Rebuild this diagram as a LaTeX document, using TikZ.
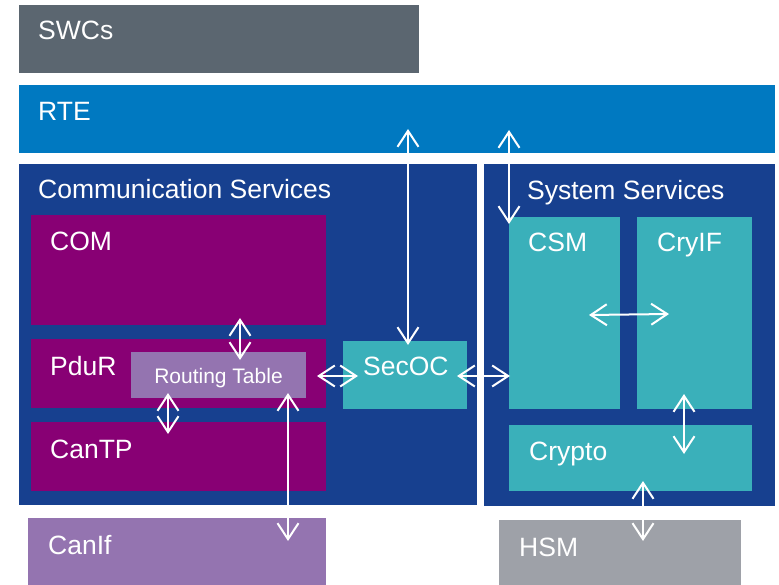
\documentclass[tikz,border=0pt]{standalone}
\usepackage{fontspec}
\setmainfont{Liberation Sans}
\usetikzlibrary{arrows.meta}
\definecolor{swcgray}{HTML}{5B6670}
\definecolor{rteblue}{HTML}{0079C1}
\definecolor{darkblue}{HTML}{17408F}
\definecolor{mpurple}{HTML}{880074}
\definecolor{lilac}{HTML}{9474B0}
\definecolor{teal}{HTML}{3AB0BA}
\definecolor{hsmgray}{HTML}{9EA1A8}
\tikzset{
  blk/.style={anchor=north west, inner sep=0pt, outer sep=0pt, draw=none},
  lbl/.style={anchor=base west, inner sep=0pt, text=white, font=\fontsize{26.5}{30}\selectfont},
  smalllbl/.style={anchor=base, inner sep=0pt, text=white, font=\fontsize{21}{25}\selectfont},
  dbl/.style={draw=white, line width=2pt, {Straight Barb[length=16pt,width=21pt]}-{Straight Barb[length=16pt,width=21pt]}}
}
\newcommand{\blkbox}[6]{\node[blk, fill=#6, minimum width=#4pt, minimum height=#5pt] (#1) at (#2,#3) {};}
\begin{document}
\begin{tikzpicture}[x=1pt,y=-1pt]
\useasboundingbox (0,0) rectangle (779,585);
% boxes
\blkbox{swc}{19}{5}{400}{68}{swcgray}
\blkbox{rte}{19}{85}{756}{68}{rteblue}
\blkbox{comm}{19}{164}{458}{341}{darkblue}
\blkbox{sys}{484}{164}{291}{342}{darkblue}
\blkbox{com}{31}{215}{295}{110}{mpurple}
\blkbox{pdur}{31}{339}{295}{69}{mpurple}
\blkbox{rt}{131}{352}{175}{46}{lilac}
\blkbox{cantp}{31}{422}{295}{69}{mpurple}
\blkbox{secoc}{343}{341}{124}{68}{teal}
\blkbox{csm}{509}{217}{111}{192}{teal}
\blkbox{cryif}{637}{217}{115}{192}{teal}
\blkbox{crypto}{509}{425}{243}{66}{teal}
\blkbox{canif}{28}{518}{298}{67}{lilac}
\blkbox{hsm}{499}{520}{242}{65}{hsmgray}
% labels
\node[lbl] (tswc) at (38,40) {SWCs};
\node[lbl] (trte) at (38,121) {RTE};
\node[lbl] (tcomm) at (38,199) {Communication Services};
\node[lbl] (tsys) at (527,200) {System Services};
\node[lbl] (tcom) at (50,251) {COM};
\node[lbl] (tpdur) at (50,375) {PduR};
\node[lbl] (tcantp) at (50,458) {CanTP};
\node[lbl] (tsecoc) at (363,375) {SecOC};
\node[lbl] (tcsm) at (528,252) {CSM};
\node[lbl] (tcryif) at (657,252) {CryIF};
\node[lbl] (tcrypto) at (529,460) {Crypto};
\node[lbl] (tcanif) at (48,554) {CanIf};
\node[lbl] (thsm) at (519,556) {HSM};
\node[smalllbl] (trt) at (218.5,383.5) {Routing Table};
% arrow end points
\coordinate (a1) at (408,129); \coordinate (b1) at (408,345);
\coordinate (a2) at (509,130); \coordinate (b2) at (509,224);
\coordinate (a3) at (240,318); \coordinate (b3) at (240,360);
\coordinate (a4) at (168,393); \coordinate (b4) at (168,434);
\coordinate (a5) at (317,376); \coordinate (b5) at (358,376);
\coordinate (a6) at (457,376); \coordinate (b6) at (510,376);
\coordinate (a7) at (589,315); \coordinate (b7) at (669,314);
\coordinate (a8) at (684,394); \coordinate (b8) at (684,454);
\coordinate (a9) at (643,481); \coordinate (b9) at (643,541);
\coordinate (a10) at (288,393); \coordinate (b10) at (288,541);
\foreach \i in {1,...,10} {\draw[dbl] (a\i) -- (b\i);}
\end{tikzpicture}
\end{document}
